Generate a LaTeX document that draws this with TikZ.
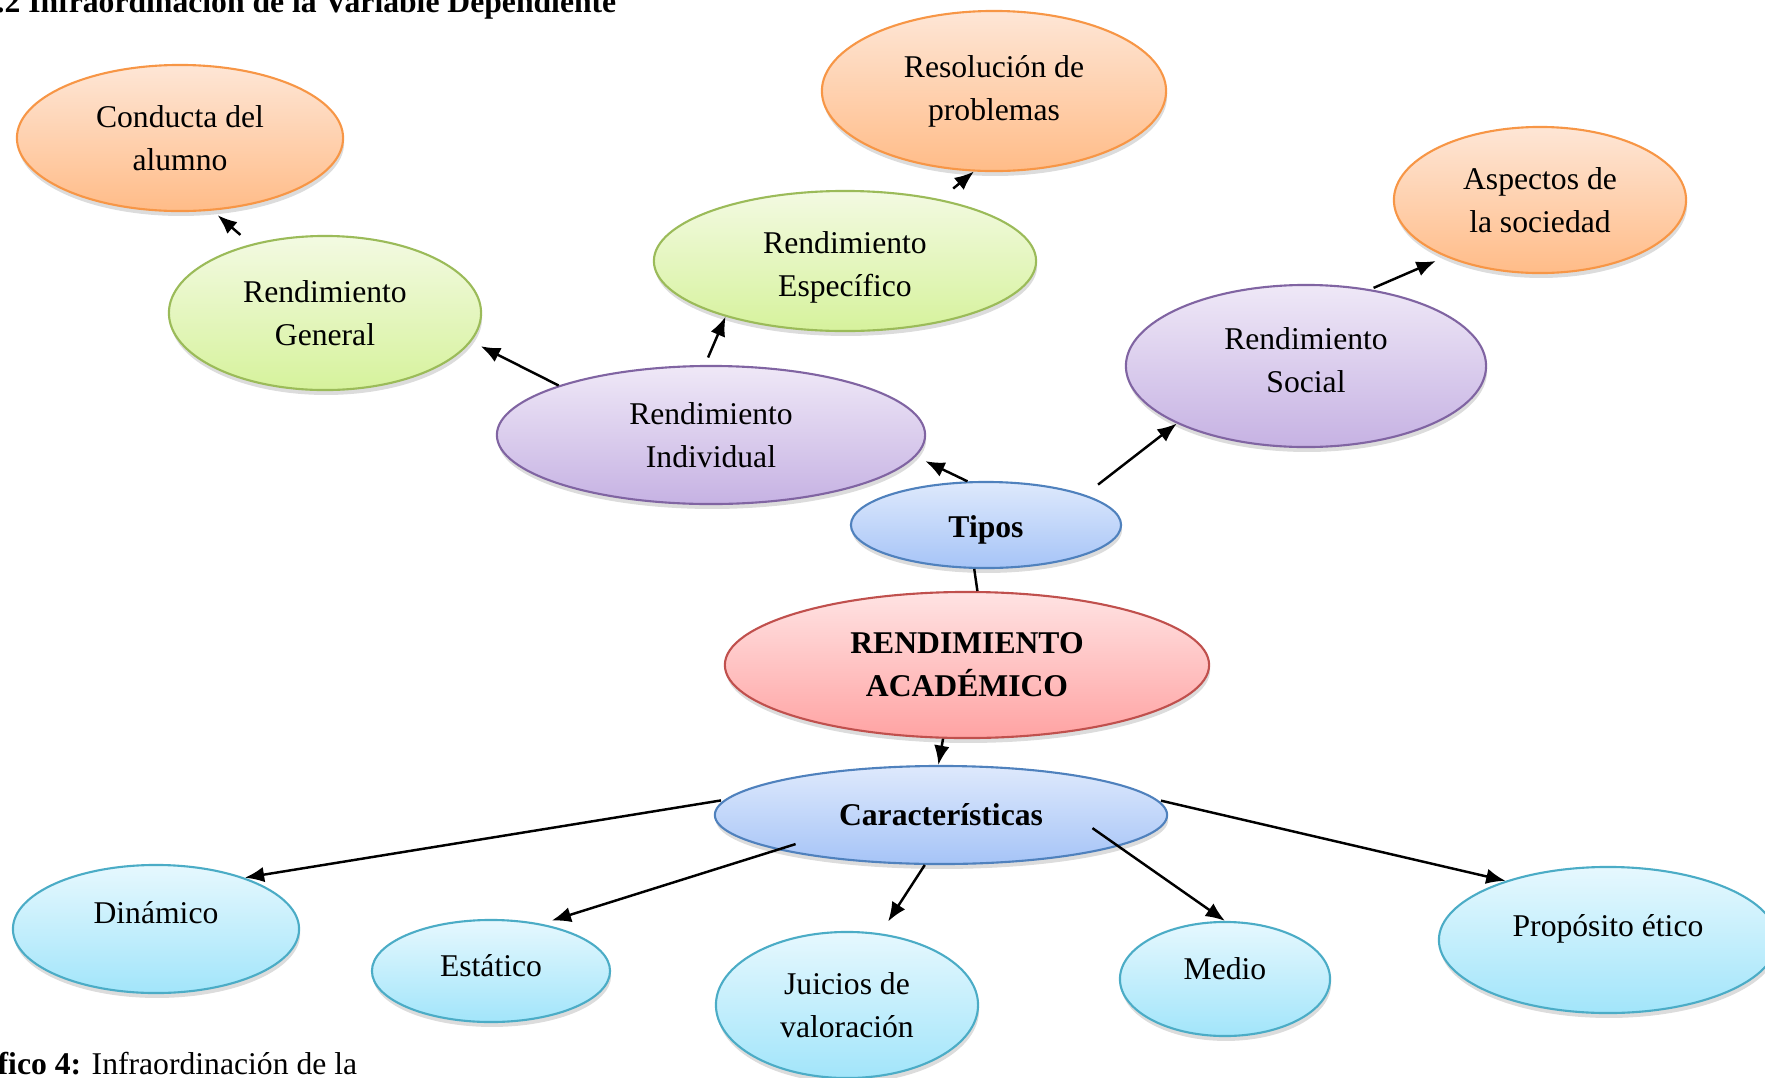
\documentclass[tikz,border=0pt]{standalone}
\usepackage{fontspec}
\setmainfont{Liberation Serif}
\usepackage{xcolor}
\usepackage{tikz}
\usetikzlibrary{shapes.geometric}
\usetikzlibrary{arrows}
\usetikzlibrary{arrows.meta}
\usetikzlibrary{shadows}
\definecolor{bNar}{HTML}{F79646}
\definecolor{tNar}{HTML}{FEE6D6}
\definecolor{fNar}{HTML}{FFBC88}
\definecolor{bVer}{HTML}{9BBB59}
\definecolor{tVer}{HTML}{F3FAE2}
\definecolor{fVer}{HTML}{D6F29C}
\definecolor{bMor}{HTML}{8064A2}
\definecolor{tMor}{HTML}{EFE8F7}
\definecolor{fMor}{HTML}{C6B2E3}
\definecolor{bAzu}{HTML}{4F81BD}
\definecolor{tAzu}{HTML}{DEE9FC}
\definecolor{fAzu}{HTML}{A6C4F7}
\definecolor{bRoj}{HTML}{C0504D}
\definecolor{tRoj}{HTML}{FFE3E3}
\definecolor{fRoj}{HTML}{FFA3A3}
\definecolor{bCel}{HTML}{4BACC6}
\definecolor{tCel}{HTML}{E6F8FE}
\definecolor{fCel}{HTML}{A2E5FA}
\newcommand{\bx}[1]{\textbf{#1}}

\begin{document}
\begin{tikzpicture}[x=0.01cm, y=-0.01cm,
            elip/.style={ellipse, inner sep=0pt, line width=0.6pt, align=center,
                font=\fontsize{9}{12.2}\selectfont,
                drop shadow={shadow xshift=0.3pt, shadow yshift=-1.4pt, opacity=0.28}},
            naranja/.style={elip, draw=bNar, top color=tNar, bottom color=fNar},
            verde/.style={elip, draw=bVer, top color=tVer, bottom color=fVer},
            morado/.style={elip, draw=bMor, top color=tMor, bottom color=fMor},
            azul/.style={elip, draw=bAzu, top color=tAzu, bottom color=fAzu},
            rojo/.style={elip, draw=bRoj, top color=tRoj, bottom color=fRoj},
            celeste/.style={elip, draw=bCel, top color=tCel, bottom color=fCel},
            flecha/.style={-{Latex[length=5.5pt,width=4.4pt]}, line width=0.7pt}]
            \useasboundingbox (0,0) rectangle (1765,1078);

            \node[anchor=base west, inner sep=0pt, font=\fontsize{9}{11}\selectfont\bfseries] (titulo) at (-4,12) {.2 Infraordinación de la Variable Dependiente};
            \node[anchor=base west, inner sep=0pt, font=\fontsize{9}{11}\selectfont] (pie) at (-3,1074) {\bx{fico 4:} Infraordinación de la};

            \node[naranja, minimum width=3.26cm, minimum height=1.46cm] (cond) at (180,138) {Conducta del\\alumno};
            \node[naranja, minimum width=3.44cm, minimum height=1.60cm] (resol) at (994,91) {Resolución de\\problemas};
            \node[naranja, minimum width=2.92cm, minimum height=1.46cm] (asp) at (1540,200) {Aspectos de\\la sociedad};

            \node[verde, minimum width=3.12cm, minimum height=1.54cm] (gen) at (325,313) {Rendimiento\\General};
            \node[verde, minimum width=3.82cm, minimum height=1.40cm, text height=22.2pt, text depth=1.9pt] (esp) at (845,261) {Rendimiento\\Específico};

            \node[morado, minimum width=4.28cm, minimum height=1.38cm] (ind) at (711,435) {Rendimiento\\Individual};
            \node[morado, minimum width=3.60cm, minimum height=1.62cm, text height=14.9pt, text depth=0pt] (soc) at (1306,366) {Rendimiento\\Social};

            \node[azul, minimum width=2.70cm, minimum height=0.86cm, text height=9pt, text depth=2pt] (tipos) at (986,525) {\bx{Tipos}};
            \node[rojo, minimum width=4.84cm, minimum height=1.46cm] (rend) at (967,665) {\bx{RENDIMIENTO}\\\bx{ACADÉMICO}};
            \node[azul, minimum width=4.52cm, minimum height=0.98cm] (car) at (941,815) {\bx{Características}};

            \node[celeste, minimum width=2.86cm, minimum height=1.28cm, text height=6pt, text depth=9pt] (din) at (156,929) {Dinámico};
            \node[celeste, minimum width=2.38cm, minimum height=1.02cm, text height=6pt, text depth=3pt] (est) at (491,971) {Estático};
            \node[celeste, minimum width=2.62cm, minimum height=1.46cm] (jui) at (847,1005) {Juicios de\\valoración};
            \node[celeste, minimum width=2.10cm, minimum height=1.14cm, text height=6pt, text depth=6pt] (medio) at (1225,979) {Medio};
            \node[celeste, minimum width=3.38cm, minimum height=1.46cm, text height=6pt, text depth=8pt] (prop) at (1608,940) {Propósito ético};

            \draw[flecha, shorten <=4pt, shorten >=2pt] (gen.137) -- (cond.-66);
            \draw[flecha, shorten >=3pt] (ind.162) -- (gen.-11);
            \draw[flecha, shorten <=2.3pt] (ind.95) -- (esp.205);
            \draw[flecha, shorten <=4.8pt] (esp.33) -- (resol.-104);
            \draw[flecha, shorten <=1pt, shorten >=3pt] (soc.50) -- (asp.211);
            \draw[flecha, shorten >=3pt] (tipos.113) -- (ind.-6);
            \draw[flecha, shorten <=4.7pt] (tipos.17) -- (soc.204);

            \draw[line width=0.7pt] (tipos.-105) -- (rend.82);
            \draw[flecha] (rend.-108) -- (car.93);

            \draw[flecha, shorten <=1pt] (car.176) -- (din.30);
            \draw[flecha, shorten <=-5.4pt, shorten >=3pt] (car.192) -- (est.43);
            \draw[flecha, shorten >=4pt] (car.-108) -- (jui.65);
            \draw[flecha, shorten <=-9pt] (car.-10) -- (medio.90);
            \draw[flecha, shorten <=1pt] (car.4) -- (prop.150);

        \end{tikzpicture}
\end{document}
